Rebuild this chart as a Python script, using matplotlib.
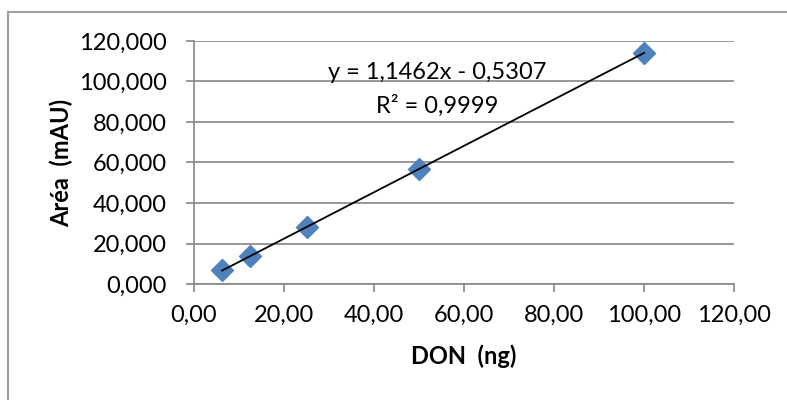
import numpy as np
import matplotlib
matplotlib.use('Agg')
import matplotlib.pyplot as plt
from matplotlib.lines import Line2D
from matplotlib.ticker import FuncFormatter

# Dados da curva de calibração
don_ng = [6.25, 12.5, 25.0, 50.0, 100.0]
area_mau = [7.0, 13.8, 28.0, 57.0, 114.2]
slope = 1.1462
intercept = -0.5307
r2_text = 'R² = 0,9999'
eq_text = 'y = 1,1462x - 0,5307'

plt.rcParams['font.family'] = ['Lato', 'DejaVu Sans']
fs = 17

fig = plt.figure(figsize=(7.87, 4.0), dpi=100)
W, H = 787, 400
ax = fig.add_axes([194 / W, 1 - 284 / H, 540 / W, 243 / H])

grid_col = '#868686'
ax.set_xlim(0, 120)
ax.set_ylim(0, 120)
ax.set_xticks(np.arange(0, 121, 20))
ax.set_yticks(np.arange(0, 121, 20))
ax.yaxis.grid(True, color=grid_col, linewidth=1.2)
ax.set_axisbelow(True)
for s in ['top', 'right']:
    ax.spines[s].set_visible(False)
for s in ['left', 'bottom']:
    ax.spines[s].set_color(grid_col)
    ax.spines[s].set_linewidth(1.2)
ax.tick_params(axis='both', direction='out', length=5.5, width=1.2, color=grid_col,
               labelsize=fs, labelcolor='black')
ax.tick_params(axis='x', pad=9.5)
ax.tick_params(axis='y', pad=14)
ax.xaxis.set_major_formatter(FuncFormatter(lambda v, p: f'{v:.2f}'.replace('.', ',')))
ax.yaxis.set_major_formatter(FuncFormatter(lambda v, p: f'{v:.3f}'.replace('.', ',')))

# Linha de tendência
xt = np.array([min(don_ng), max(don_ng)])
ax.plot(xt, slope * xt + intercept, color='black', linewidth=1.3, zorder=3)
ax.plot(don_ng, area_mau, linestyle='none', marker='D', markersize=11,
        color='#4F81BD', zorder=2)

ax.text(54, 104.2, eq_text, ha='center', va='center', fontsize=fs)
ax.text(54, 88, r2_text, ha='center', va='center', fontsize=fs)

ax.set_xlabel('DON  (ng)', fontsize=fs, fontweight='bold', labelpad=13.5)
ax.set_ylabel('Aréa  (mAU)', fontsize=fs, fontweight='bold', labelpad=4.5)

# Borda do gráfico (só esquerda e topo visíveis)
fig.add_artist(Line2D([8 / W, 8 / W], [0, 1 - 11.5 / H], color='#A0A0A0', linewidth=1.5))
fig.add_artist(Line2D([8 / W, 1], [1 - 11.5 / H, 1 - 11.5 / H], color='#A0A0A0', linewidth=1.5))

fig.savefig('out.png', dpi=100)
